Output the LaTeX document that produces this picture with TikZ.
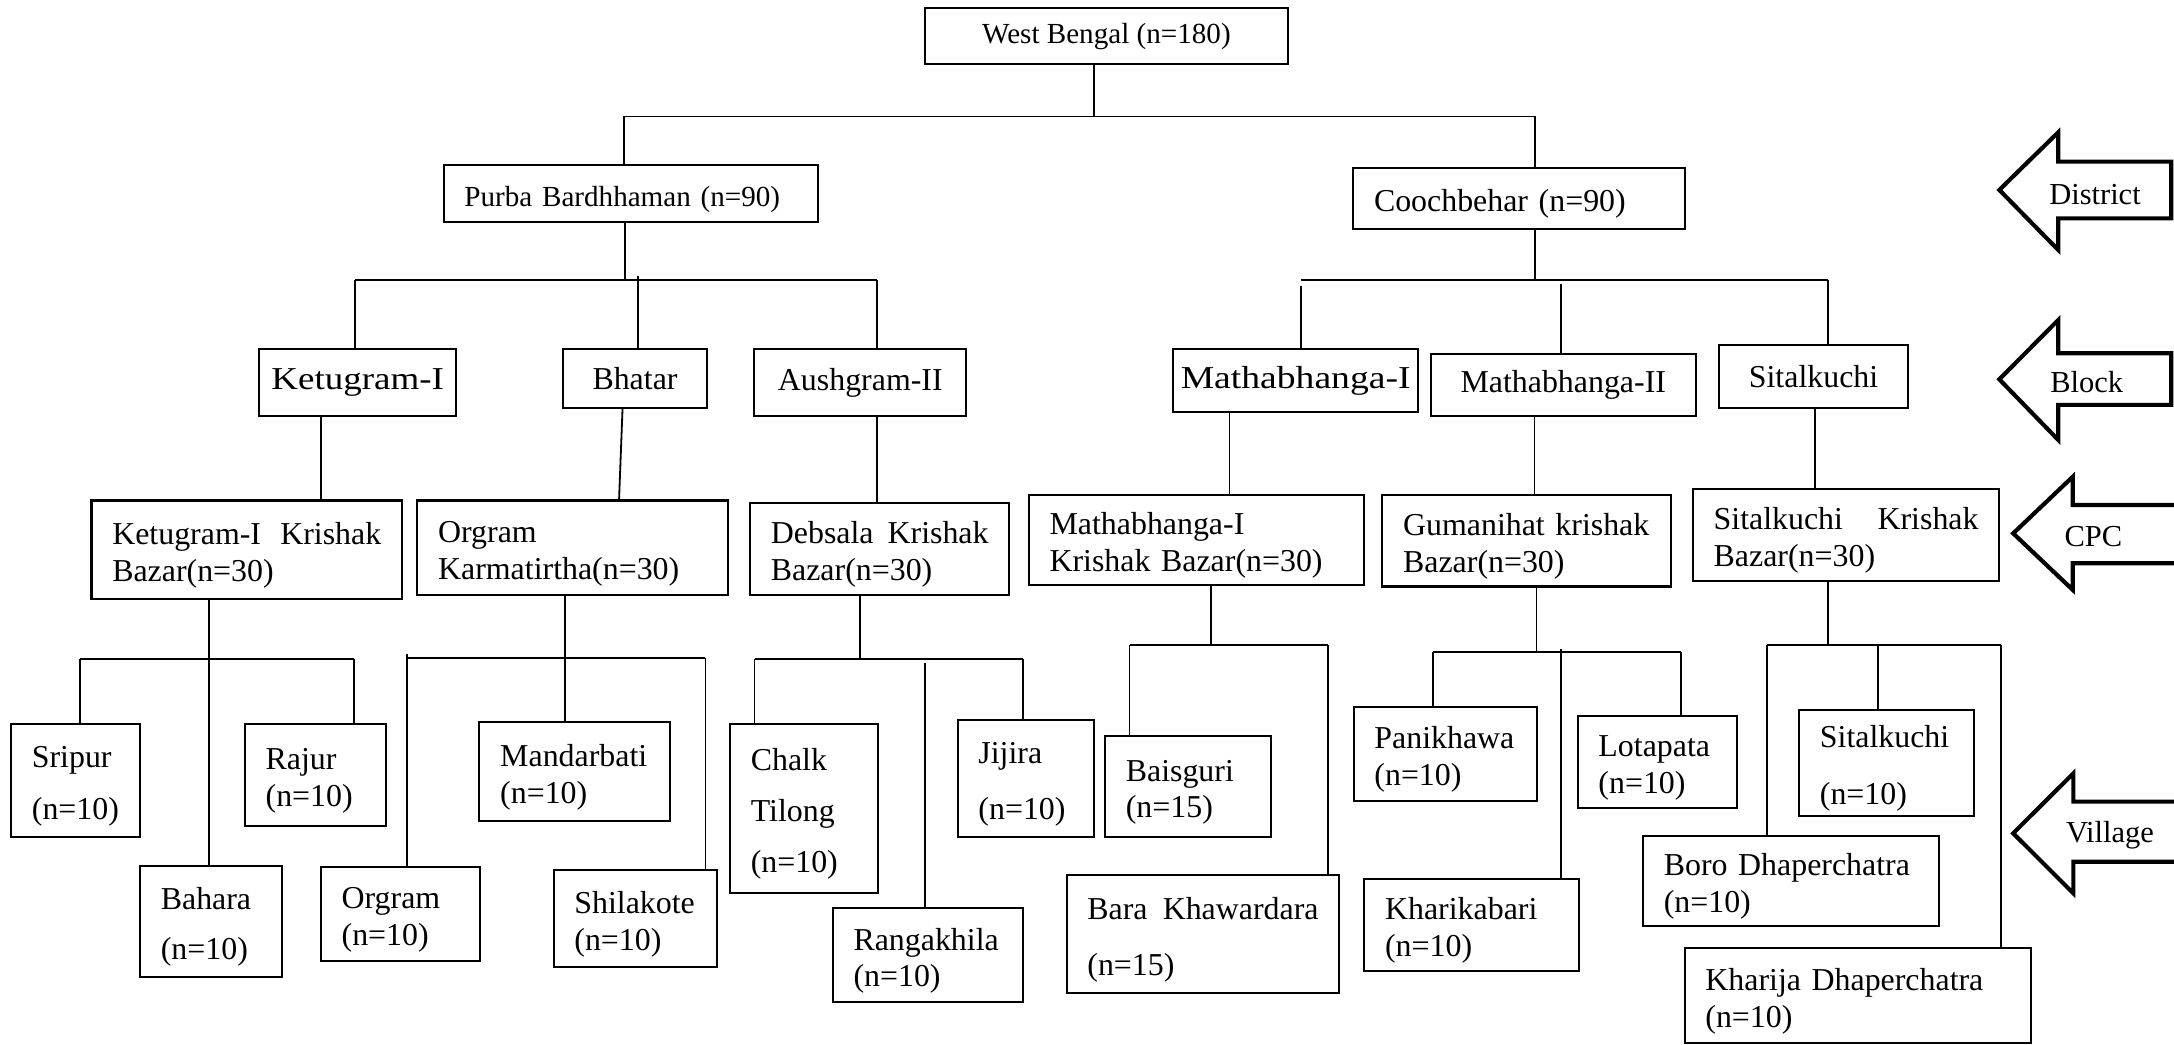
\documentclass[tikz,border=0pt]{standalone}
\usepackage{graphicx}
\usepackage{fontspec}
\setmainfont{Liberation Serif}
\usetikzlibrary{calc}
\tikzset{
  box/.style={draw, line width=0.75pt, inner xsep=7.5pt, inner ysep=0pt, align=left,
    font={\fontsize{11.5}{13.3}\selectfont}},
  cbox/.style={draw, line width=0.75pt, inner sep=0pt, align=center,
    font={\fontsize{11.5}{13.3}\selectfont}},
  topbox/.style={cbox, font={\fontsize{10.5}{12.5}\selectfont}},
  conn/.style={line width=0.65pt},
  lvlarrow/.style={line width=1.5pt, line join=miter},
  lvltext/.style={inner sep=0pt, font={\fontsize{11}{13}\selectfont}}
}
% left-aligned box with text: \mybox[style]{name}{left}{top}{right}{bottom}{text}
\newcommand{\mybox}[7][box]{%
  \pgfmathsetmacro{\bxw}{(#5-#3)*0.5}%
  \pgfmathsetmacro{\bxh}{(#6-#4)*0.5}%
  \pgfmathsetmacro{\bxt}{(#5-#3-30)*0.5}%
  \node[#1, minimum width=\bxw pt, minimum height=\bxh pt, text width=\bxt pt]
    (#2) at ({(#3+#5)/2},{(#4+#6)/2}) {\rule{0pt}{12pt}#7};}
% centred one-line box: \mycbox[style]{name}{left}{top}{right}{bottom}{text}
\newcommand{\mycbox}[7][cbox]{%
  \pgfmathsetmacro{\bxw}{(#5-#3)*0.5}%
  \pgfmathsetmacro{\bxh}{(#6-#4)*0.5}%
  \node[#1, minimum width=\bxw pt, minimum height=\bxh pt]
    (#2) at ({(#3+#5)/2},{(#4+#6)/2}) {#7};}
\begin{document}
\begin{tikzpicture}[x=0.5pt,y=-0.5pt]
\useasboundingbox (0,0) rectangle (1568,753);

% ---------- boxes ----------
\mycbox[topbox]{wb}{667}{6}{929}{46}{West Bengal (n=180)}
\mybox[box, font={\fontsize{10.5}{12.5}\selectfont}]{purba}{320}{119}{590}{160}{\mbox{Purba Bardhhaman (n=90)}}
\mybox{cooch}{976}{121}{1215}{165}{\mbox{Coochbehar (n=90)}}

\mycbox{k1}{187}{252}{329}{300}{\scalebox{1.16}[1]{Ketugram-I}}
\mycbox{bhatar}{406}{252}{510}{294}{Bhatar}
\mycbox{aush}{544}{252}{697}{300}{Aushgram-II}
\mycbox{m1}{846}{252}{1023}{297}{\scalebox{1.18}[1]{Mathabhanga-I}}
\mycbox{m2}{1032}{255}{1223}{300}{Mathabhanga-II}
\mycbox{sitb}{1240}{249}{1376}{294}{Sitalkuchi}

\mybox{kcpc}{66}{361}{290}{432}{\mbox{Ketugram-I}\nobreak\hfill\mbox{Krishak}\\\mbox{Bazar(n=30)}}
\mybox{ocpc}{301}{361}{525}{429}{\mbox{Orgram}\\\mbox{Karmatirtha(n=30)}}
\mybox{dcpc}{541}{363}{728}{429}{\mbox{Debsala}\nobreak\hfill\mbox{Krishak}\\\mbox{Bazar(n=30)}}
\mybox{mcpc}{742}{357}{984}{422}{\mbox{Mathabhanga-I}\\\mbox{Krishak Bazar(n=30)}}
\mybox{gcpc}{997}{357}{1205}{423}{\mbox{Gumanihat krishak}\\\mbox{Bazar(n=30)}}
\mybox{scpc}{1221}{353}{1442}{419}{\mbox{Sitalkuchi}\nobreak\hfill\mbox{Krishak}\\\mbox{Bazar(n=30)}}

\mybox{sripur}{8}{522}{101}{603.5}{\mbox{Sripur}\\[5.5pt]\mbox{(n=10)}}
\mybox{rajur}{176.6}{522}{278.4}{596}{\mbox{Rajur}\\\mbox{(n=10)}}
\mybox{bahara}{101}{624.4}{203.5}{704.4}{\mbox{Bahara}\\[4.7pt]\mbox{(n=10)}}
\mybox{orgv}{231.4}{625}{346.2}{693}{\mbox{Orgram}\\\mbox{(n=10)}}
\mybox{mandar}{345.8}{521}{483.3}{592}{\mbox{Mandarbati}\\\mbox{(n=10)}}
\mybox{shila}{399.3}{627.5}{517.4}{697.2}{\mbox{Shilakote}\\\mbox{(n=10)}}
\mybox{chalk}{526.5}{522}{633}{644}{\mbox{Chalk}\\[5pt]\mbox{Tilong}\\[5pt]\mbox{(n=10)}}
\mybox{ranga}{600.6}{655}{737.8}{723}{\mbox{Rangakhila}\\\mbox{(n=10)}}
\mybox{jijira}{690.7}{519.3}{789.3}{603.5}{\mbox{Jijira}\\[7pt]\mbox{(n=10)}}
\mybox{baisg}{797}{530.6}{916.7}{603.5}{\mbox{Baisguri}\\\mbox{(n=15)}}
\mybox{barak}{769.3}{631}{966}{716.4}{\mbox{Bara}\nobreak\hfill\mbox{Khawardara}\\[7pt]\mbox{(n=15)}}
\mybox{panik}{976.3}{509.7}{1108.8}{577.5}{\mbox{Panikhawa}\\\mbox{(n=10)}}
\mybox{lota}{1137.9}{516.2}{1252.8}{583}{\mbox{Lotapata}\\\mbox{(n=10)}}
\mybox{khari}{984}{634}{1138.8}{700}{\mbox{Kharikabari}\\\mbox{(n=10)}}
\mybox{sitv}{1297.6}{512}{1424}{588.3}{\mbox{Sitalkuchi}\\[7pt]\mbox{(n=10)}}
\mybox{boro}{1185}{603}{1398.2}{667.6}{\mbox{Boro Dhaperchatra}\\\mbox{(n=10)}}
\mybox{kharija}{1215}{683.5}{1465}{752.5}{\mbox{Kharija Dhaperchatra}\\\mbox{(n=10)}}

% ---------- connectors: state -> districts ----------
\coordinate (j0) at (789,84);
\coordinate (j0L) at (450,84);
\coordinate (j0R) at (1107,84);
\draw[conn] (j0 |- wb.south) -- (j0);
\draw[conn] (j0L) -- (j0R);
\draw[conn] (j0L) -- (j0L |- purba.north);
\draw[conn] (j0R) -- (j0R |- cooch.north);

% ---------- districts -> blocks ----------
\coordinate (j1) at (451,202);
\coordinate (j1L) at (256,202);
\coordinate (j1R) at (632.6,202);
\coordinate (j1M) at (460,199);
\draw[conn] (j1 |- purba.south) -- (j1);
\draw[conn] (j1L) -- (j1R);
\draw[conn] (j1L) -- (j1L |- k1.north);
\draw[conn] (j1M) -- (j1M |- bhatar.north);
\draw[conn] (j1R) -- (j1R |- aush.north);

\coordinate (j2) at (1107,202);
\coordinate (j2L) at (938.6,202);
\coordinate (j2R) at (1318.3,202);
\coordinate (j2a) at (938.6,206);
\coordinate (j2b) at (1125.6,205);
\draw[conn] (j2 |- cooch.south) -- (j2);
\draw[conn] (j2L) -- (j2R);
\draw[conn] (j2a) -- (j2a |- m1.north);
\draw[conn] (j2b) -- (j2b |- m2.north);
\draw[conn] (j2R) -- (j2R |- sitb.north);

% ---------- blocks -> CPC ----------
\coordinate (xk) at (231.6,0);
\coordinate (xbh1) at (449,0);
\coordinate (xbh2) at (446.5,0);
\coordinate (xau) at (632.6,0);
\coordinate (xm1) at (886.8,0);
\coordinate (xm2) at (1106.7,0);
\coordinate (xsi) at (1309,0);
\draw[conn] (xk |- k1.south) -- (xk |- kcpc.north);
\draw[conn] (xbh1 |- bhatar.south) -- (xbh2 |- ocpc.north);
\draw[conn] (xau |- aush.south) -- (xau |- dcpc.north);
\draw[conn] (xm1 |- m1.south) -- (xm1 |- mcpc.north);
\draw[conn] (xm2 |- m2.south) -- (xm2 |- gcpc.north);
\draw[conn] (xsi |- sitb.south) -- (xsi |- scpc.north);

% ---------- CPC -> villages ----------
\coordinate (kb) at (151,475.3);
\coordinate (kbL) at (57.9,475.3);
\coordinate (kbR) at (255.6,475.3);
\draw[conn] (kb |- kcpc.south) -- (kb |- bahara.north);
\draw[conn] (kbL) -- (kbR);
\draw[conn] (kbL) -- (kbL |- sripur.north);
\draw[conn] (kbR) -- (kbR |- rajur.north);

\coordinate (ob) at (407.4,474.3);
\coordinate (obL) at (293.4,474.3);
\coordinate (obR) at (508.8,474.3);
\coordinate (obL2) at (293.4,472);
\draw[conn] (ob |- ocpc.south) -- (ob |- mandar.north);
\draw[conn] (obL) -- (obR);
\draw[conn] (obL2) -- (obL2 |- orgv.north);
\draw[conn] (obR) -- (obR |- shila.north);

\coordinate (db) at (620,475.5);
\coordinate (dbL) at (544.2,475.5);
\coordinate (dbR) at (738,475.5);
\coordinate (dbM) at (666.9,478);
\draw[conn] (db |- dcpc.south) -- (db);
\draw[conn] (dbL) -- (dbR);
\draw[conn] (dbL) -- (dbL |- chalk.north);
\draw[conn] (dbM) -- (dbM |- ranga.north);
\draw[conn] (dbR) -- (dbR |- jijira.north);

\coordinate (mb) at (873.3,465.2);
\coordinate (mbL) at (814.7,465.2);
\coordinate (mbR) at (958,465.2);
\draw[conn] (mb |- mcpc.south) -- (mb);
\draw[conn] (mbL) -- (mbR);
\draw[conn] (mbL) -- (mbL |- baisg.north);
\draw[conn] (mbR) -- (mbR |- barak.north);

\coordinate (gb) at (1108.2,470);
\coordinate (gbL) at (1033.8,470);
\coordinate (gbR) at (1212.6,470);
\coordinate (gbM) at (1125.6,468.3);
\draw[conn] (gb |- gcpc.south) -- (gb);
\draw[conn] (gbL) -- (gbR);
\draw[conn] (gbL) -- (gbL |- panik.north);
\draw[conn] (gbM) -- (gbM |- khari.north);
\draw[conn] (gbR) -- (gbR |- lota.north);

\coordinate (sb) at (1318.4,465.2);
\coordinate (sbL) at (1274.2,465.2);
\coordinate (sbR) at (1443.2,465.2);
\coordinate (sbM) at (1354.6,465.2);
\draw[conn] (sb |- scpc.south) -- (sb);
\draw[conn] (sbL) -- (sbR);
\draw[conn] (sbL) -- (sbL |- boro.north);
\draw[conn] (sbM) -- (sbM |- sitv.north);
\draw[conn] (sbR) -- (sbR |- kharija.north);

% ---------- level arrows ----------
\draw[lvlarrow] (1566,116.6) -- (1484.5,116.6) -- (1484.5,95.4) -- (1442,137)
  -- (1484.5,180.3) -- (1484.5,157.5) -- (1566,157.5) -- cycle;
\node[lvltext] (tdistrict) at (1511,140.6) {District};

\draw[lvlarrow] (1566,254.8) -- (1484.5,254.8) -- (1484.5,230.8) -- (1442,273.6)
  -- (1484.5,317.3) -- (1484.5,292) -- (1566,292) -- cycle;
\node[lvltext] (tblock) at (1505,275.3) {Block};

\draw[lvlarrow] (1575,364.2) -- (1495,364.2) -- (1495,343.8) -- (1452,384.7)
  -- (1495,425.5) -- (1495,406.3) -- (1575,406.3);
\node[lvltext] (tcpc) at (1509.8,387) {CPC};

\draw[lvlarrow] (1575,578.2) -- (1495.4,578.2) -- (1495.4,557.8) -- (1452,601)
  -- (1495.4,644.3) -- (1495.4,621.5) -- (1575,621.5);
\node[lvltext] (tvillage) at (1521.8,602.2) {Village};
\end{tikzpicture}
\end{document}
